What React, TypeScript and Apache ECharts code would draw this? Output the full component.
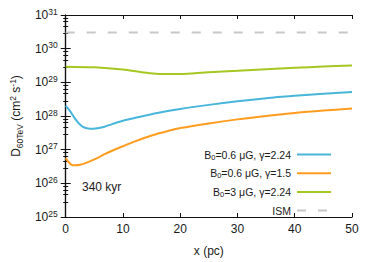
import React, { useEffect, useRef } from "react";
import * as echarts from "echarts";

const blueX = [0, 0.8, 1.35, 2.2, 3, 3.9, 4.7, 5.8, 6.9, 8.1, 10, 13, 16, 20, 25, 30, 35, 40, 45, 50];
const blueY = [2.04e28, 1.37e28, 9.8e27, 6.25e27, 4.79e27, 4.27e27, 4.17e27, 4.37e27, 4.9e27, 5.75e27, 7.24e27, 9.55e27, 1.23e28, 1.62e28, 2.14e28, 2.75e28, 3.39e28, 3.98e28, 4.57e28, 5.13e28];

const orangeX = [0, 0.5, 1.06, 1.6, 2.5, 3.9, 5.3, 6.7, 8.1, 10, 12, 15, 18, 20, 25, 30, 35, 40, 45, 50];
const orangeY = [5.6e26, 4.3e26, 3.55e26, 3.43e26, 3.55e26, 4.27e26, 5.4e26, 7.2e26, 9.3e26, 1.26e27, 1.74e27, 2.63e27, 3.63e27, 4.37e27, 6.03e27, 7.94e27, 1.0e28, 1.23e28, 1.45e28, 1.66e28];

const greenX = [0, 5, 10, 13, 15, 17, 20, 25, 30, 35, 40, 45, 50];
const greenY = [2.92e29, 2.79e29, 2.4e29, 2.04e29, 1.86e29, 1.76e29, 1.78e29, 2.0e29, 2.19e29, 2.45e29, 2.69e29, 2.95e29, 3.16e29];

const ismX = [0, 50];
const ismY = [3e30, 3e30];

const seriesNames = ["B0=0.6 μG, γ=2.24", "B0=0.6 μG, γ=1.5", "B0=3 μG, γ=2.24", "ISM"];
const seriesColors = ["#48B5DA", "#FF9C20", "#A5C820", "#C8C8C8"];
const annotation = "340 kyr";

const zip = (xs: number[], ys: number[]) => xs.map((x, i) => [x, ys[i]]);

export default function App() {
  const ref = useRef<HTMLDivElement>(null);
  useEffect(() => {
    if (!ref.current) return;
    const chart = echarts.init(ref.current, undefined, { renderer: "svg" });
    const font = "Liberation Sans, Arial, sans-serif";
    const txt = "#1a1a1a";
    const supRich = {
      b: { fontSize: 12, lineHeight: 16, fontFamily: font, color: txt },
      e: { fontSize: 8.5, lineHeight: 9, verticalAlign: "top", fontFamily: font, color: txt },
    };
    const legendRich = {
      t: { fontSize: 10.5, lineHeight: 13, fontFamily: font, color: txt },
      s: { fontSize: 7.5, lineHeight: 7, verticalAlign: "bottom", fontFamily: font, color: txt },
    };
    const datas = [zip(blueX, blueY), zip(orangeX, orangeY), zip(greenX, greenY), zip(ismX, ismY)];
    const logAxisCommon = {
      type: "log",
      logBase: 10,
      min: 1e25,
      max: 1e31,
      splitLine: { show: false },
      axisLine: { show: true, lineStyle: { color: "#111", width: 1.2 } },
      axisTick: { show: true, inside: true, length: 5, lineStyle: { color: "#111", width: 1 } },
      minorTick: { show: true, splitNumber: 5, length: 2.5, lineStyle: { color: "#111", width: 1 } },
    };
    const xAxisCommon = {
      type: "value",
      min: 0,
      max: 50,
      interval: 10,
      splitLine: { show: false },
      axisLine: { show: true, onZero: false, lineStyle: { color: "#111", width: 1.2 } },
      axisTick: { show: true, inside: true, length: 4, lineStyle: { color: "#111", width: 1 } },
    };
    chart.setOption({
      animation: false,
      grid: { left: 54, right: 22, top: 15, bottom: 41, containLabel: false },
      xAxis: [
        {
          ...xAxisCommon,
          position: "bottom",
          name: "x (pc)",
          nameLocation: "middle",
          nameGap: 28,
          nameTextStyle: { fontSize: 12, fontFamily: font, color: txt },
          axisLabel: { fontSize: 12, fontFamily: font, color: txt, margin: 6 },
        },
        { ...xAxisCommon, position: "top", axisLabel: { show: false } },
      ],
      yAxis: [
        {
          ...logAxisCommon,
          position: "left",
          name: "{t|D}{s|60TeV}{t| (cm}{p|2}{t| s}{p|-1}{t|)}",
          nameLocation: "middle",
          nameRotate: 90,
          nameGap: 36,
          nameTextStyle: {
            rich: {
              t: { fontSize: 12, lineHeight: 16, fontFamily: font, color: txt },
              s: { fontSize: 8.5, lineHeight: 9, verticalAlign: "bottom", fontFamily: font, color: txt },
              p: { fontSize: 8.5, lineHeight: 9, verticalAlign: "top", fontFamily: font, color: txt },
            },
          },
          axisLabel: {
            margin: 8,
            formatter: (v: number) => `{b|10}{e|${Math.round(Math.log10(v))}}`,
            rich: supRich,
          },
        },
        { ...logAxisCommon, position: "right", axisLabel: { show: false } },
      ],
      legend: {
        orient: "vertical",
        right: 37,
        top: 144,
        align: "right",
        itemWidth: 34,
        itemHeight: 12,
        itemGap: 6.7,
        data: seriesNames,
        itemStyle: { opacity: 0, borderWidth: 0 },
        formatter: (name: string) =>
          name.startsWith("B0")
            ? `{t|B}{s|0}{t|${name.slice(2)}}`
            : `{t|${name}}`,
        textStyle: { rich: legendRich, padding: [0, 1, 0, 0] },
      },
      graphic: [
        {
          type: "text",
          left: 82,
          top: 181,
          style: { text: annotation, fontSize: 12, fontFamily: font, fill: txt },
        },
      ],
      series: seriesNames.map((name, i) => ({
        name,
        type: "line",
        data: datas[i],
        showSymbol: false,
        symbol: "none",
        smooth: i === 3 ? false : 0.3,
        color: seriesColors[i],
        lineStyle: {
          color: seriesColors[i],
          width: 2,
          type: i === 3 ? [9, 12] : "solid",
        },
        z: i === 3 ? 1 : 2,
      })),
    });
    return () => chart.dispose();
  }, []);
  return (
    <div
      ref={ref}
      style={{ position: "fixed", left: 0, top: 0, width: 374, height: 262, background: "#fff" }}
    />
  );
}
